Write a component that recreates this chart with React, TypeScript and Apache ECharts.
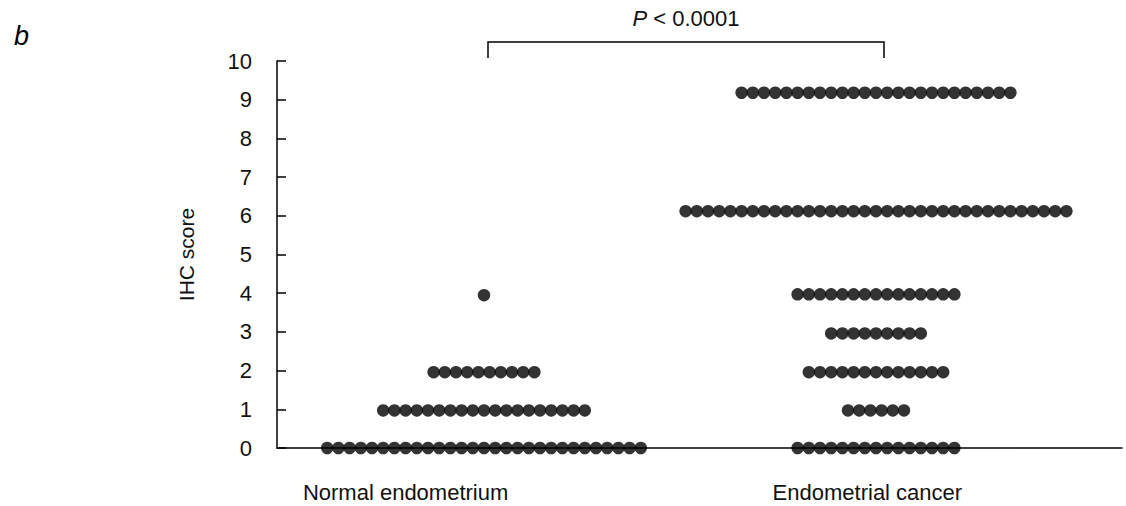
import React, { useEffect, useRef } from "react";
import * as echarts from "echarts";

// Dot-plot data: IHC score levels (as placed in the figure) and number of samples at each level
const groups = ["Normal endometrium", "Endometrial cancer"];
const normalLevels = [0, 0.97, 1.96, 3.95];
const normalCounts = [29, 19, 10, 1];
const cancerLevels = [0, 0.97, 1.96, 2.96, 3.97, 6.12, 9.18];
const cancerCounts = [15, 6, 13, 9, 15, 35, 25];
const yTicks = [0, 1, 2, 3, 4, 5, 6, 7, 8, 9, 10];
// where each group's label sits along the x axis (in x-axis units)
const groupLabelPos = [0.8, 1.978];
const pLabel = "< 0.0001";

const DOT_STEP = 11.2 / 392; // horizontal spacing of adjacent dots in x-units

function buildDots(center: number, levels: number[], counts: number[]) {
  const pts: number[][] = [];
  levels.forEach((lv, k) => {
    const n = counts[k];
    for (let i = 0; i < n; i++) {
      pts.push([center + (i - (n - 1) / 2) * DOT_STEP, lv]);
    }
  });
  return pts;
}

const FONT = "'Liberation Sans', Arial, Helvetica, sans-serif";
const FS = 22;

export default function App() {
  const ref = useRef<HTMLDivElement>(null);
  useEffect(() => {
    document.body.style.margin = "0";
    const chart = echarts.init(ref.current!, null, { renderer: "svg" });
    const xMin = 1 - 207 / 392;
    const xMax = 1 + (845 - 207) / 392;
    chart.setOption({
      animation: false,
      backgroundColor: "#fff",
      grid: { left: 277, top: 61, right: 4, bottom: 58, containLabel: false },
      xAxis: {
        type: "value",
        min: xMin,
        max: xMax,
        axisLine: { show: true, onZero: false, lineStyle: { color: "#000", width: 1.5 } },
        axisTick: { show: false },
        splitLine: { show: false },
        axisLabel: {
          customValues: groupLabelPos,
          formatter: (v: number) => {
            const idx = groupLabelPos.findIndex((p) => Math.abs(p - v) < 1e-6);
            return idx >= 0 ? groups[idx] : "";
          },
          fontSize: FS,
          color: "#111",
          fontFamily: FONT,
          margin: 33,
        },
      },
      yAxis: {
        type: "value",
        min: 0,
        max: 10,
        interval: 1,
        name: "IHC score",
        nameLocation: "middle",
        nameRotate: 90,
        nameGap: 80,
        nameTextStyle: { fontSize: FS - 1, color: "#111", fontFamily: FONT },
        axisLine: { show: true, lineStyle: { color: "#000", width: 1.5 } },
        axisTick: { show: true, inside: true, length: 9, lineStyle: { color: "#000", width: 1.5 } },
        splitLine: { show: false },
        axisLabel: {
          fontSize: FS,
          color: "#111",
          fontFamily: FONT,
          margin: 25,
          formatter: (v: number) => (yTicks.includes(v) ? String(v) : ""),
        },
      },
      series: [
        {
          type: "scatter",
          name: groups[0],
          symbol: "circle",
          symbolSize: 12.5,
          itemStyle: { color: "#000" },
          data: buildDots(1, normalLevels, normalCounts),
        },
        {
          type: "scatter",
          name: groups[1],
          symbol: "circle",
          symbolSize: 12.5,
          itemStyle: { color: "#000" },
          data: buildDots(2, cancerLevels, cancerCounts),
        },
      ],
      graphic: [
        {
          type: "text",
          left: 14,
          top: 22,
          style: { text: "b", font: `italic 27px ${FONT}`, fill: "#000" },
        },
        {
          type: "polyline",
          shape: { points: [[488, 58], [488, 42], [884, 42], [884, 58]] },
          style: { stroke: "#000", lineWidth: 1.5, fill: "none" },
        },
        {
          type: "text",
          x: 686,
          y: 18,
          style: {
            text: "{i|P} " + pLabel,
            rich: { i: { fontStyle: "italic", fontSize: FS, fontFamily: FONT, fill: "#111" } },
            fontSize: FS,
            fontFamily: FONT,
            fill: "#111",
            align: "center",
            verticalAlign: "middle",
          },
        },
      ],
    });
    return () => chart.dispose();
  }, []);
  return <div ref={ref} style={{ position: "fixed", left: 0, top: 0, width: 1126, height: 506 }} />;
}
